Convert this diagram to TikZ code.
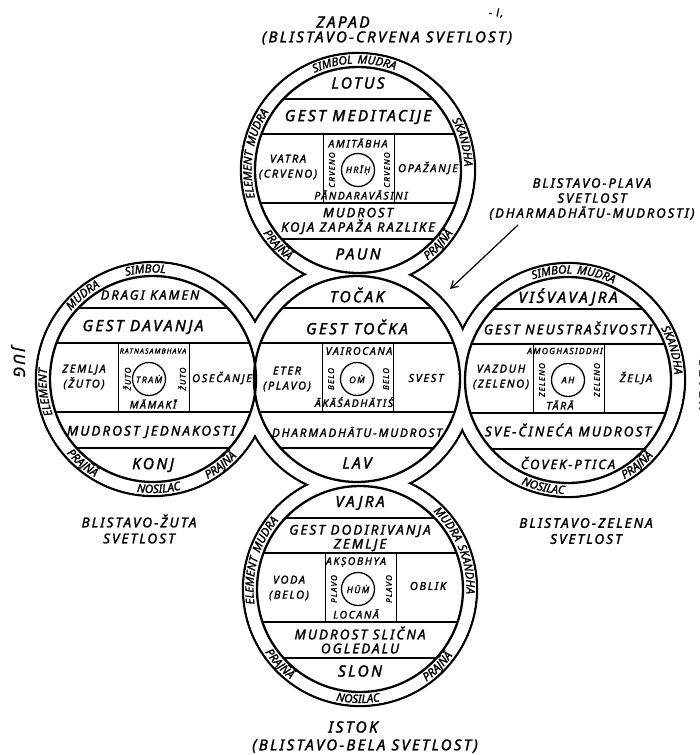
\documentclass[tikz,border=0pt]{standalone}
\usepackage{fontspec}
\setmainfont{Noto Sans}[LetterSpace=15, FakeBold=1.6]
\usetikzlibrary{decorations.text,arrows.meta}
\newcommand{\ringfont}{\fontsize{11.5}{12}\selectfont\itshape}
\newcommand{\ringtext}[5]{\path[decorate,decoration={text along path,text align=center,text={|\ringfont|#5}}] ([shift={(#3:#2)}]#1) arc[start angle=#3,end angle=#4,radius=#2];}
\newcommand{\mbands}{%
  \begin{scope}
    \clip (0,0) circle[radius=103];
    \foreach \yy in {-71,-36,33,69} \draw[band] (-110,\yy) -- (110,\yy);
  \end{scope}
  \draw[boxline] (-35,-36) -- (-35,33) (36,-36) -- (36,33);
}
\begin{document}
\begin{tikzpicture}[x=1pt,y=-1pt,
  lbl/.style={font=\fontsize{15.5}{16}\selectfont\itshape, inner sep=0pt, align=center},
  lbln/.style={font=\fontsize{13}{16}\selectfont\itshape, inner sep=0pt, align=center},
  lbls/.style={font=\fontsize{13.5}{15}\selectfont\itshape, inner sep=0pt, align=center},
  two/.style={font=\fontsize{13}{14.5}\selectfont\itshape, inner sep=0pt, align=center},
  outlbl/.style={font=\fontsize{13.5}{16}\selectfont\itshape, inner sep=0pt, align=center},
  mid/.style={font=\fontsize{11}{15}\selectfont\itshape, inner sep=0pt, align=center},
  sm/.style={font=\fontsize{10.5}{11}\selectfont\itshape, inner sep=0pt},
  tv/.style={font=\fontsize{8}{8}\selectfont\itshape, inner sep=0pt, rotate=90},
  syl/.style={circle, draw, line width=1.3pt, minimum size=33pt, inner sep=0pt, font=\fontsize{9}{9}\selectfont\itshape},
  ring/.style={line width=2.3pt},
  band/.style={line width=1.4pt},
  boxline/.style={line width=0.9pt},
]
\useasboundingbox (0,0) rectangle (700,755);
\fill[white] (0,0) rectangle (700,755);

\coordinate (T) at (358,170);
\coordinate (L) at (153,379);
\coordinate (C) at (357,379);
\coordinate (R) at (568,380);
\coordinate (B) at (360,589);

% outer outline (union of outer circles)
\foreach \c in {T,L,C,R,B} \draw[ring] (\c) circle[radius=117];
\foreach \c in {T,L,C,R,B} \fill[white] (\c) circle[radius=115.8];
% inner circles
\foreach \c in {T,L,C,R,B} \draw[ring] (\c) circle[radius=103];

% ---------- TOP (ZAPAD) ----------
\begin{scope}[shift={(T)}]
  \mbands
  \node[lbl] (T1) at (0,-87) {LOTUS};
  \node[lbl] (T2) at (0,-53) {GEST MEDITACIJE};
  \node[mid] (T3) at (-70,-3) {VATRA\\(CRVENO)};
  \node[sm]  (T4) at (0,-27) {AMITĀBHA};
  \node[tv]  (T5) at (-26,0) {CRVENO};
  \node[tv]  (T6) at (29,0) {CRVENO};
  \node[syl] (T7) at (0,0) {HRĪḤ};
  \node[sm]  (T8) at (3,25) {PĀNDARAVĀSINI};
  \node[mid] (T9) at (70,-2) {OPAŽANJE};
  \node[two] (T10) at (0,51) {MUDROST\\KOJA ZAPAŽA RAZLIKE};
  \node[lbl] (T11) at (0,84) {PAUN};
\end{scope}

% ---------- LEFT (JUG) ----------
\begin{scope}[shift={(L)}]
  \mbands
  \node[lbln] (L1) at (-3,-84) {DRAGI KAMEN};
  \node[lbl] (L2) at (-10,-52) {GEST DAVANJA};
  \node[mid] (L3) at (-69,-2) {ZEMLJA\\(ŽUTO)};
  \node[sm, font=\fontsize{7}{8}\selectfont\itshape]  (L4) at (0,-28) {RATNASAMBHAVA};
  \node[tv]  (L5) at (-26,0) {ŽUTO};
  \node[tv]  (L6) at (29,0) {ŽUTO};
  \node[syl] (L7) at (-4,0) {TRAṀ};
  \node[sm]  (L8) at (0,25) {MĀMAKĪ};
  \node[mid] (L9) at (69,-1) {OSEČANJE};
  \node[lbls] (L10) at (-2,53) {MUDROST JEDNAKOSTI};
  \node[lbl] (L11) at (0,86) {KONJ};
\end{scope}

% ---------- CENTER ----------
\begin{scope}[shift={(C)}]
  \mbands
  \node[lbl] (C1) at (0,-84) {TOČAK};
  \node[lbl] (C2) at (0,-52) {GEST TOČKA};
  \node[mid] (C3) at (-70,0) {ETER\\(PLAVO)};
  \node[sm]  (C4) at (2,-28) {VAIROCANA};
  \node[tv]  (C5) at (-26,0) {BELO};
  \node[tv]  (C6) at (29,0) {BELO};
  \node[syl] (C7) at (0,0) {OṀ};
  \node[sm]  (C8) at (-3,23) {ĀKĀŚADHĀTIŚ};
  \node[mid] (C9) at (69,-1) {SVEST};
  \node[lbls, font=\fontsize{11.8}{15}\selectfont\itshape] (C10) at (0,53) {DHARMADHĀTU-MUDROST};
  \node[lbl] (C11) at (0,84) {LAV};
\end{scope}

% ---------- RIGHT (SEVER) ----------
\begin{scope}[shift={(R)}]
  \mbands
  \node[lbl] (R1) at (0,-83) {VIŚVAVAJRA};
  \node[lbls] (R2) at (0,-52) {GEST NEUSTRAŠIVOSTI};
  \node[mid] (R3) at (-67,-3) {VAZDUH\\(ZELENO)};
  \node[sm, font=\fontsize{8.5}{9}\selectfont\itshape]  (R4) at (-3,-29) {AMOGHASIDDHI};
  \node[tv]  (R5) at (-26,0) {ZELENO};
  \node[tv]  (R6) at (29,0) {ZELENO};
  \node[syl] (R7) at (0,0) {AH};
  \node[sm]  (R8) at (-8,25) {TĀRĀ};
  \node[mid] (R9) at (68,-2) {ŽELJA};
  \node[lbls] (R10) at (0,50) {SVE-ČINEĆA MUDROST};
  \node[lbln] (R11) at (0,83) {ČOVEK-PTICA};
\end{scope}

% ---------- BOTTOM (ISTOK) ----------
\begin{scope}[shift={(B)}]
  \mbands
  \node[lbl] (B1) at (0,-86) {VAJRA};
  \node[two, font=\fontsize{13.5}{14}\selectfont\itshape] (B2) at (0,-51) {GEST DODIRIVANJA\\ZEMLJE};
  \node[mid] (B3) at (-71,-1) {VODA\\(BELO)};
  \node[sm]  (B4) at (-4,-27) {AKṢOBHYA};
  \node[tv]  (B5) at (-26,0) {PLAVO};
  \node[tv]  (B6) at (29,0) {PLAVO};
  \node[syl] (B7) at (-2,0) {HŪṀ};
  \node[sm]  (B8) at (-4,25) {LOCANĀ};
  \node[mid] (B9) at (68,-3) {OBLIK};
  \node[two, font=\fontsize{13.5}{14}\selectfont\itshape] (B10) at (0,51) {MUDROST SLIČNA\\OGLEDALU};
  \node[lbl] (B11) at (0,82) {SLON};
\end{scope}

% ---------- ring texts ----------
% top
\ringtext{T}{106.5}{234}{302}{SIMBOL MUDRA}
\ringtext{T}{106.5}{150}{228}{ELEMENT MUDRA}
\ringtext{T}{106.5}{-42}{12}{SKANDHA}
\ringtext{T}{114}{156}{118}{PRAJÑĀ}
\ringtext{T}{114}{63}{23}{PRAJÑĀ}
% left
\ringtext{L}{106.5}{245}{287}{SIMBOL}
\ringtext{L}{106.5}{210}{250}{MUDRA}
\ringtext{L}{106.5}{143}{203}{ELEMENT}
\ringtext{L}{114}{151}{109}{PRAJÑĀ}
\ringtext{L}{114}{106}{68}{NOSILAC}
\ringtext{L}{114}{71}{33}{PRAJÑĀ}
% right
\ringtext{R}{106.5}{234}{312}{SIMBOL MUDRA}
\ringtext{R}{106.5}{-42}{10}{SKANDHA}
\ringtext{R}{114}{125}{81}{NOSILAC}
\ringtext{R}{114}{71}{31}{PRAJÑĀ}
% bottom
\ringtext{B}{106.5}{156}{236}{ELEMENT MUDRA}
\ringtext{B}{106.5}{-62}{18}{MUDRA SKANDHA}
\ringtext{B}{114}{158}{116}{PRAJÑĀ}
\ringtext{B}{114}{111}{71}{NOSILAC}
\ringtext{B}{114}{65}{25}{PRAJÑĀ}

% ---------- outer labels ----------
\node[lbl] (zapad) at (343,22) {ZAPAD};
\node[lbl, font=\fontsize{15}{16}\selectfont\itshape] (zapad2) at (387,38) {(BLISTAVO-CRVENA SVETLOST)};
\node[lbl] (istok) at (353,727) {ISTOK};
\node[lbl, font=\fontsize{15}{16}\selectfont\itshape] (istok2) at (365,746) {(BLISTAVO-BELA SVETLOST)};
\node[outlbl, font=\fontsize{13}{15}\selectfont\itshape] (plava) at (592,199) {BLISTAVO-PLAVA\\SVETLOST\\(DHARMADHĀTU-MUDROSTI)};
\node[outlbl] (zuta) at (139,529) {BLISTAVO-ŽUTA\\SVETLOST};
\node[outlbl] (zelena) at (586,531) {BLISTAVO-ZELENA\\SVETLOST};
\node[lbl, rotate=-90] (jug) at (18,362) {JUG};
\node[lbl, rotate=-90] (sever) at (705,385) {SEVER};
\node[sm] (mark) at (496,13) {- l,};

\coordinate (arrS) at (518,225);
\coordinate (arrE) at (450,289);
\draw[line width=1.2pt, -{Straight Barb[length=7pt,width=8pt]}] (arrS) -- (arrE);
\end{tikzpicture}
\end{document}
